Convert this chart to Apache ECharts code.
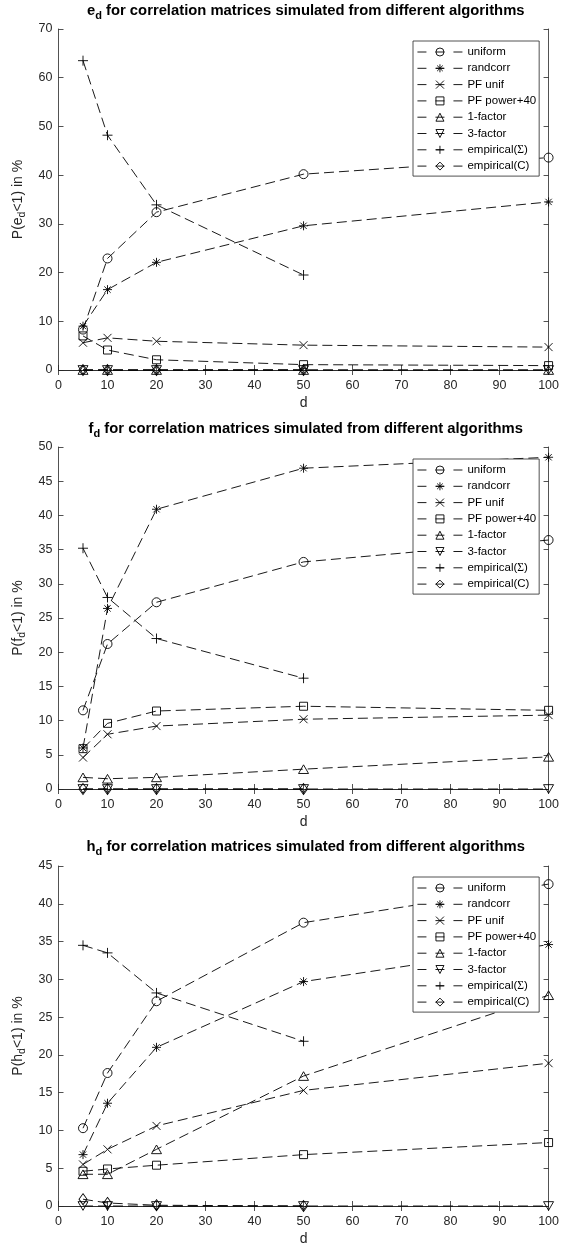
<!DOCTYPE html>
<html><head><meta charset="utf-8">
<script src="https://cdn.jsdelivr.net/npm/echarts@6/dist/echarts.min.js"></script>
<style>html,body{margin:0;padding:0;background:#fff}#c{width:562px;height:1247px}</style>
</head><body><div id="c"></div><script>
// ---- data ----
const D = [5, 10, 20, 50, 100];
const D_EMP = [5, 10, 20, 50];
const NAMES = ['uniform', 'randcorr', 'PF unif', 'PF power+40', '1-factor', '3-factor', 'empirical(Σ)', 'empirical(C)'];

// e_d panel
const E_UNIFORM = [8.3, 22.9, 32.4, 40.2, 43.6];
const E_RANDCORR = [9.0, 16.5, 22.1, 29.6, 34.5];
const E_PFUNIF = [5.6, 6.6, 5.9, 5.1, 4.7];
const E_PFPOWER = [7.0, 4.1, 2.1, 1.1, 0.9];
const E_ONEFACTOR = [0, 0, 0, 0, 0];
const E_THREEFACTOR = [0, 0, 0, 0, 0];
const E_EMPSIGMA = [63.5, 48.2, 33.9, 19.5];
const E_EMPC = [0, 0, 0, 0];

// f_d panel
const F_UNIFORM = [11.5, 21.2, 27.3, 33.2, 36.4];
const F_RANDCORR = [6.0, 26.4, 40.9, 46.9, 48.5];
const F_PFUNIF = [4.6, 8.0, 9.2, 10.2, 10.8];
const F_PFPOWER = [5.9, 9.6, 11.4, 12.1, 11.5];
const F_ONEFACTOR = [1.7, 1.5, 1.7, 2.9, 4.7];
const F_THREEFACTOR = [0, 0, 0, 0, 0];
const F_EMPSIGMA = [35.2, 28.0, 22.0, 16.2];
const F_EMPC = [0, 0, 0, 0];

// h_d panel
const H_UNIFORM = [10.3, 17.6, 27.1, 37.5, 42.6];
const H_RANDCORR = [6.8, 13.6, 21.0, 29.7, 34.6];
const H_PFUNIF = [5.5, 7.5, 10.6, 15.3, 18.9];
const H_PFPOWER = [4.6, 4.9, 5.4, 6.8, 8.4];
const H_ONEFACTOR = [4.2, 4.2, 7.5, 17.2, 27.9];
const H_THREEFACTOR = [0, 0, 0, 0, 0];
const H_EMPSIGMA = [34.5, 33.5, 28.2, 21.8];
const H_EMPC = [0.9, 0.4, 0.1, 0.0];

// axis ranges / ticks
const X_MIN = 0, X_MAX = 100, X_INT = 10;
const Y_MAX = [70, 50, 45];
const Y_INT = [10, 5, 5];
const LETTERS = ['e', 'f', 'h'];

// ---- styling ----
const FONT = 'Liberation Sans';
const AX = '#262626';
const SYM = {
  'uniform': {symbol: 'circle', size: 9},
  'randcorr': {symbol: 'path://M5,0L5,10M0,5L10,5M1.5,1.5L8.5,8.5M8.5,1.5L1.5,8.5', size: 9},
  'PF unif': {symbol: 'path://M0,0L10,10M0,10L10,0', size: 8},
  'PF power+40': {symbol: 'rect', size: 8},
  '1-factor': {symbol: 'path://M5,0L10,8.66L0,8.66Z', size: 10},
  '3-factor': {symbol: 'path://M0,0L10,0L5,8.66Z', size: 10},
  'empirical(Σ)': {symbol: 'path://M5,0L5,10M0,5L10,5', size: 10},
  'empirical(C)': {symbol: 'diamond', size: [8, 11]}
};

const PANELS = [
  {vals: [E_UNIFORM, E_RANDCORR, E_PFUNIF, E_PFPOWER, E_ONEFACTOR, E_THREEFACTOR, E_EMPSIGMA, E_EMPC]},
  {vals: [F_UNIFORM, F_RANDCORR, F_PFUNIF, F_PFPOWER, F_ONEFACTOR, F_THREEFACTOR, F_EMPSIGMA, F_EMPC]},
  {vals: [H_UNIFORM, H_RANDCORR, H_PFUNIF, H_PFPOWER, H_ONEFACTOR, H_THREEFACTOR, H_EMPSIGMA, H_EMPC]}
];
const LAYOUT = [
  {top: 29, height: 341, title: 1, legend: 41},
  {top: 447, height: 342, title: 419, legend: 459},
  {top: 866, height: 341, title: 837, legend: 877}
];
const GRID_LEFT = 58.5, GRID_W = 494.5;

const option = {
  animation: false,
  backgroundColor: '#fff',
  textStyle: {fontFamily: FONT},
  title: [], grid: [], xAxis: [], yAxis: [], legend: [], series: []
};

PANELS.forEach((p, k) => {
  const L = LAYOUT[k];
  const letter = LETTERS[k];
  option.title.push({
    text: '{t|' + letter + '}{s|d}{t| for correlation matrices simulated from different algorithms}',
    left: GRID_LEFT + GRID_W / 2, top: L.title, textAlign: 'center', padding: 0,
    textStyle: {rich: {
      t: {fontFamily: FONT, fontSize: 14.8, fontWeight: 'bold', color: '#000'},
      s: {fontFamily: FONT, fontSize: 11, fontWeight: 'bold', color: '#000', padding: [9, 0, 0, 0]}
    }}
  });
  option.grid.push({left: GRID_LEFT, top: L.top, width: GRID_W, height: L.height, containLabel: false});
  const axCommon = {
    type: 'value', min: X_MIN, max: X_MAX, interval: X_INT, gridIndex: k,
    axisLine: {show: true, lineStyle: {color: AX, width: 0.8}},
    axisTick: {show: true, inside: true, length: 5, lineStyle: {color: AX, width: 0.8}},
    splitLine: {show: false}
  };
  option.xAxis.push(Object.assign({}, axCommon, {
    position: 'bottom',
    axisLabel: {color: AX, fontSize: 12.5, fontFamily: FONT, margin: 9},
    name: 'd', nameLocation: 'middle', nameGap: 26,
    nameTextStyle: {color: AX, fontSize: 14, fontFamily: FONT}
  }));
  option.xAxis.push(Object.assign({}, axCommon, {position: 'top', axisLabel: {show: false}}));
  const yCommon = {
    type: 'value', min: 0, max: Y_MAX[k], interval: Y_INT[k], gridIndex: k,
    axisLine: {show: true, onZero: false, lineStyle: {color: AX, width: 0.8}},
    axisTick: {show: true, inside: true, length: 5, lineStyle: {color: AX, width: 0.8}},
    splitLine: {show: false}
  };
  option.yAxis.push(Object.assign({}, yCommon, {
    position: 'left',
    axisLabel: {color: AX, fontSize: 12.5, fontFamily: FONT, margin: 6},
    name: '{n|P(' + letter + '}{s|d}{n|<1) in %}', nameLocation: 'middle', nameGap: 25,
    nameTextStyle: {rich: {
      n: {color: AX, fontSize: 14, fontFamily: FONT},
      s: {color: AX, fontSize: 10.5, fontFamily: FONT, padding: [8, 0, 0, 0]}
    }}
  }));
  option.yAxis.push(Object.assign({}, yCommon, {position: 'right', axisLabel: {show: false}}));

  option.legend.push({
    data: NAMES, orient: 'vertical', left: 413, top: L.legend,
    itemWidth: 45, itemHeight: 10, itemGap: 4.3, padding: [5, 3, 4, 4],
    backgroundColor: '#fff', borderColor: AX, borderWidth: 0.8, borderRadius: 0,
    selectedMode: false, z: 10,
    lineStyle: {type: [9, 9], width: 0.9, color: '#000'},
    itemStyle: {color: 'rgba(0,0,0,0)', borderColor: '#000', borderWidth: 0.9},
    textStyle: {color: '#000', fontSize: 11.5, fontFamily: FONT,
      rich: {n: {color: '#000', fontSize: 11.5, fontFamily: FONT}, g: {color: '#000', fontSize: 11.5, fontFamily: 'Liberation Serif'}}},
    formatter: function (name) {
      if (name === 'empirical(Σ)') return '{n|empirical(}{g|Σ}{n|)}';
      return name;
    }
  });

  NAMES.forEach((nm, i) => {
    const vals = p.vals[i];
    const xs = vals.length === D.length ? D : D_EMP;
    option.series.push({
      type: 'line', name: nm, xAxisIndex: 2 * k, yAxisIndex: 2 * k,
      data: xs.map((d, j) => [d, vals[j]]),
      symbol: SYM[nm].symbol, symbolSize: SYM[nm].size, symbolKeepAspect: true,
      showSymbol: true, clip: false,
      lineStyle: {color: '#000', width: 0.9, type: [10, 5]},
      itemStyle: {color: 'rgba(0,0,0,0)', borderColor: '#000', borderWidth: 0.9},
      emphasis: {disabled: true}
    });
  });
});

const chart = echarts.init(document.getElementById('c'), null, {renderer: 'canvas'});
chart.setOption(option);
</script></body></html>
